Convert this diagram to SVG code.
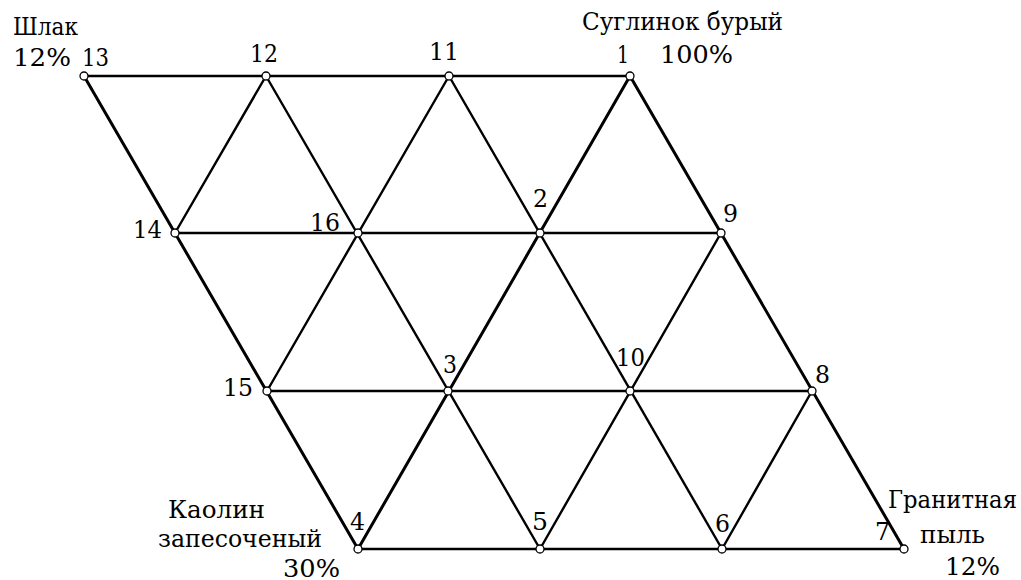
<svg xmlns="http://www.w3.org/2000/svg" width="1021" height="580" viewBox="0 0 1021 580">
<style>
.e{stroke:#000;stroke-width:2.4;fill:none;stroke-linecap:round}
.t{stroke-width:3}
.n{fill:#fff;stroke:#000;stroke-width:1.3}
</style>
<rect width="1021" height="580" fill="#fff"/>
<g id="connectors">
<line class="e" x1="84" y1="76" x2="630" y2="76"/>
<line class="e" x1="175" y1="233" x2="721" y2="233"/>
<line class="e" x1="267" y1="391" x2="812" y2="391"/>
<line class="e" x1="358" y1="549" x2="904" y2="549"/>
<line class="e t" x1="84" y1="76" x2="358" y2="549"/>
<line class="e" x1="266" y1="76" x2="540" y2="549"/>
<line class="e" x1="449" y1="76" x2="722" y2="549"/>
<line class="e t" x1="630" y1="76" x2="904" y2="549"/>
<line class="e" x1="266" y1="76" x2="175" y2="233"/>
<line class="e" x1="449" y1="76" x2="267" y2="391"/>
<line class="e t" x1="630" y1="76" x2="358" y2="549"/>
<line class="e" x1="721" y1="233" x2="540" y2="549"/>
<line class="e" x1="812" y1="391" x2="722" y2="549"/>
</g>
<g font-family="DejaVu Serif" font-size="25" fill="#000">
<g id="n13"><circle class="n" cx="84" cy="76" r="4"/><text x="82" y="66" textLength="27" lengthAdjust="spacingAndGlyphs">13</text></g>
<g id="n12"><circle class="n" cx="266" cy="76" r="4"/><text x="250" y="62" textLength="28" lengthAdjust="spacingAndGlyphs">12</text></g>
<g id="n11"><circle class="n" cx="449" cy="76" r="4"/><text x="429" y="60" textLength="30" lengthAdjust="spacingAndGlyphs">11</text></g>
<g id="n1"><circle class="n" cx="630" cy="76" r="4"/><text x="617" y="63" textLength="12" lengthAdjust="spacingAndGlyphs">1</text></g>
<g id="n14"><circle class="n" cx="175" cy="233" r="4"/><text x="133" y="238" textLength="29" lengthAdjust="spacingAndGlyphs">14</text></g>
<g id="n16"><circle class="n" cx="358" cy="233" r="4"/><text x="310" y="231" textLength="30" lengthAdjust="spacingAndGlyphs">16</text></g>
<g id="n2"><circle class="n" cx="540" cy="233" r="4"/><text x="533" y="207" textLength="15" lengthAdjust="spacingAndGlyphs">2</text></g>
<g id="n9"><circle class="n" cx="721" cy="233" r="4"/><text x="723" y="222" textLength="15" lengthAdjust="spacingAndGlyphs">9</text></g>
<g id="n15"><circle class="n" cx="267" cy="391" r="4"/><text x="223" y="396" textLength="30" lengthAdjust="spacingAndGlyphs">15</text></g>
<g id="n3"><circle class="n" cx="448" cy="391" r="4"/><text x="443" y="373" textLength="14" lengthAdjust="spacingAndGlyphs">3</text></g>
<g id="n10"><circle class="n" cx="630" cy="391" r="4"/><text x="616" y="366" textLength="29" lengthAdjust="spacingAndGlyphs">10</text></g>
<g id="n8"><circle class="n" cx="812" cy="391" r="4"/><text x="815" y="383" textLength="15" lengthAdjust="spacingAndGlyphs">8</text></g>
<g id="n4"><circle class="n" cx="358" cy="549" r="4"/><text x="350" y="530" textLength="15" lengthAdjust="spacingAndGlyphs">4</text></g>
<g id="n5"><circle class="n" cx="540" cy="549" r="4"/><text x="532" y="530" textLength="16" lengthAdjust="spacingAndGlyphs">5</text></g>
<g id="n6"><circle class="n" cx="722" cy="549" r="4"/><text x="715" y="532" textLength="15" lengthAdjust="spacingAndGlyphs">6</text></g>
<g id="n7"><circle class="n" cx="904" cy="549" r="4"/><text x="875" y="540" textLength="15" lengthAdjust="spacingAndGlyphs">7</text></g>
<g id="labels">
<text x="13" y="35" textLength="65" lengthAdjust="spacingAndGlyphs">Шлак</text>
<text x="13" y="66" textLength="58" lengthAdjust="spacingAndGlyphs">12%</text>
<text x="582" y="30" textLength="201" lengthAdjust="spacingAndGlyphs">Суглинок бурый</text>
<text x="660" y="63" textLength="73" lengthAdjust="spacingAndGlyphs">100%</text>
<text x="168" y="518" textLength="97" lengthAdjust="spacingAndGlyphs">Каолин</text>
<text x="158" y="547" textLength="164" lengthAdjust="spacingAndGlyphs">запесоченый</text>
<text x="283" y="577" textLength="57" lengthAdjust="spacingAndGlyphs">30%</text>
<text x="888" y="508" textLength="129" lengthAdjust="spacingAndGlyphs">Гранитная</text>
<text x="920" y="543" textLength="65" lengthAdjust="spacingAndGlyphs">пыль</text>
<text x="945" y="575" textLength="55" lengthAdjust="spacingAndGlyphs">12%</text>
</g>
</g>
</svg>
